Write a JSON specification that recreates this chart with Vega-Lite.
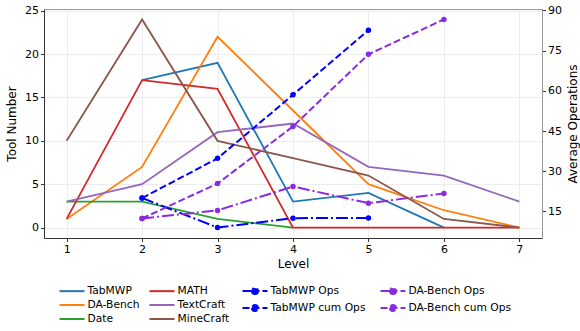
{
  "$schema": "https://vega.github.io/schema/vega-lite/v6.json",
  "autosize": {"type": "none"},
  "width": 498,
  "height": 229,
  "padding": {"left": 44, "top": 9, "right": 38, "bottom": 93},
  "config": {
    "font": "DejaVu Sans",
    "view": {"stroke": "#999", "strokeWidth": 1},
    "axis": {"labelFont": "DejaVu Sans", "titleFont": "DejaVu Sans", "labelFontSize": 11, "titleFontSize": 12, "titleFontWeight": "normal", "labelColor": "#000", "titleColor": "#000", "tickColor": "#333", "tickSize": 3.5, "labelPadding": 2, "gridColor": "#e8e8e8", "gridWidth": 0.8},
    "legend": {"labelFont": "DejaVu Sans", "labelFontSize": 10.7, "labelColor": "#000"}
  },
  "datasets": {
    "left": [
      {"level": 2, "series": "TabMWP", "value": 17}, {"level": 3, "series": "TabMWP", "value": 19}, {"level": 4, "series": "TabMWP", "value": 3}, {"level": 5, "series": "TabMWP", "value": 4}, {"level": 6, "series": "TabMWP", "value": 0},
      {"level": 1, "series": "DA-Bench", "value": 1}, {"level": 2, "series": "DA-Bench", "value": 7}, {"level": 3, "series": "DA-Bench", "value": 22}, {"level": 4, "series": "DA-Bench", "value": 13.5}, {"level": 5, "series": "DA-Bench", "value": 5}, {"level": 6, "series": "DA-Bench", "value": 2}, {"level": 7, "series": "DA-Bench", "value": 0},
      {"level": 1, "series": "Date", "value": 3}, {"level": 2, "series": "Date", "value": 3}, {"level": 3, "series": "Date", "value": 1}, {"level": 4, "series": "Date", "value": 0},
      {"level": 1, "series": "MATH", "value": 1}, {"level": 2, "series": "MATH", "value": 17}, {"level": 3, "series": "MATH", "value": 16}, {"level": 4, "series": "MATH", "value": 0}, {"level": 5, "series": "MATH", "value": 0}, {"level": 6, "series": "MATH", "value": 0}, {"level": 7, "series": "MATH", "value": 0},
      {"level": 1, "series": "TextCraft", "value": 3}, {"level": 2, "series": "TextCraft", "value": 5}, {"level": 3, "series": "TextCraft", "value": 11}, {"level": 4, "series": "TextCraft", "value": 12}, {"level": 5, "series": "TextCraft", "value": 7}, {"level": 6, "series": "TextCraft", "value": 6}, {"level": 7, "series": "TextCraft", "value": 3},
      {"level": 1, "series": "MineCraft", "value": 10}, {"level": 2, "series": "MineCraft", "value": 24}, {"level": 3, "series": "MineCraft", "value": 10}, {"level": 4, "series": "MineCraft", "value": 8}, {"level": 5, "series": "MineCraft", "value": 6}, {"level": 6, "series": "MineCraft", "value": 1}, {"level": 7, "series": "MineCraft", "value": 0}
    ],
    "right": [
      {"level": 2, "series": "TabMWP Ops", "ops": 20}, {"level": 3, "series": "TabMWP Ops", "ops": 9}, {"level": 4, "series": "TabMWP Ops", "ops": 12.5}, {"level": 5, "series": "TabMWP Ops", "ops": 12.6},
      {"level": 2, "series": "TabMWP cum Ops", "ops": 20}, {"level": 3, "series": "TabMWP cum Ops", "ops": 34.8}, {"level": 4, "series": "TabMWP cum Ops", "ops": 58.5}, {"level": 5, "series": "TabMWP cum Ops", "ops": 82.6},
      {"level": 2, "series": "DA-Bench Ops", "ops": 12.4}, {"level": 3, "series": "DA-Bench Ops", "ops": 15.4}, {"level": 4, "series": "DA-Bench Ops", "ops": 24.3}, {"level": 5, "series": "DA-Bench Ops", "ops": 18.1}, {"level": 6, "series": "DA-Bench Ops", "ops": 21.7},
      {"level": 2, "series": "DA-Bench cum Ops", "ops": 12.4}, {"level": 3, "series": "DA-Bench cum Ops", "ops": 25.4}, {"level": 4, "series": "DA-Bench cum Ops", "ops": 46.7}, {"level": 5, "series": "DA-Bench cum Ops", "ops": 73.6}, {"level": 6, "series": "DA-Bench cum Ops", "ops": 86.6}
    ]
  },
  "encoding": {
    "x": {"field": "level", "type": "quantitative",
      "scale": {"domain": [0.7, 7.3], "nice": false, "zero": false},
      "axis": {"values": [1, 2, 3, 4, 5, 6, 7], "format": "d", "title": "Level", "grid": true, "domainColor": "#333", "titlePadding": 4}}
  },
  "layer": [
    {
      "data": {"name": "left"},
      "mark": {"type": "line", "strokeWidth": 1.8},
      "encoding": {
        "y": {"field": "value", "type": "quantitative",
          "scale": {"domain": [-1.2, 25.2], "nice": false, "zero": false},
          "axis": {"values": [0, 5, 10, 15, 20, 25], "title": "Tool Number", "grid": true, "domainColor": "#333", "titlePadding": 6}},
        "color": {"field": "series", "type": "nominal",
          "scale": {"domain": ["TabMWP", "MATH", "DA-Bench", "TextCraft", "Date", "MineCraft"],
            "range": ["#1f77b4", "#d62728", "#ff7f0e", "#9467bd", "#2ca02c", "#8c564b"]},
          "legend": {"title": null, "orient": "none", "direction": "horizontal", "legendX": 22, "legendY": 276, "columns": 2, "columnPadding": 5, "rowPadding": 3,
            "symbolType": "stroke", "symbolSize": 100, "symbolStrokeWidth": 2, "labelOffset": 9.5,
            "encode": {"symbols": {"update": {"shape": {"value": "M-2.5,0H2.5"}}}}}}
      }
    },
    {
      "data": {"name": "right"},
      "layer": [
        {"mark": {"type": "line", "strokeWidth": 2}, "encoding": {}},
        {"mark": {"type": "point", "shape": "circle", "filled": true, "opacity": 1, "size": 30}, "encoding": {}}
      ],
      "encoding": {
        "y": {"field": "ops", "type": "quantitative",
          "scale": {"domain": [5.1, 90.5], "nice": false, "zero": false},
          "axis": {"orient": "right", "values": [15, 30, 45, 60, 75, 90], "title": "Average Operations", "titleAngle": 270, "titleBaseline": "middle", "titleX": 30, "titleY": 114.5, "grid": false, "domainColor": "#999"}},
        "color": {"field": "series", "type": "nominal",
          "scale": {"domain": ["TabMWP Ops", "DA-Bench Ops", "TabMWP cum Ops", "DA-Bench cum Ops"],
            "range": ["#0000ff", "#8a2be2", "#0000ff", "#8a2be2"]},
          "legend": {"title": null, "orient": "none", "direction": "horizontal", "legendX": 205, "legendY": 276, "columns": 2, "columnPadding": 10, "rowPadding": 3,
            "symbolType": "stroke", "symbolSize": 100, "symbolStrokeWidth": 2, "labelOffset": 9.5,
            "encode": {"symbols": {"update": {
              "shape": {"value": "M-2.5,0H2.5M-0.6,0A0.6,0.6,0,1,0,0.6,0A0.6,0.6,0,1,0,-0.6,0Z"},
              "fill": {"signal": "indexof(datum.value, 'TabMWP') >= 0 ? '#0000ff' : '#8a2be2'"}
            }}}}},
        "strokeDash": {"field": "series", "type": "nominal",
          "scale": {"domain": ["TabMWP Ops", "DA-Bench Ops", "TabMWP cum Ops", "DA-Bench cum Ops"],
            "range": [[12, 3, 2, 3], [12, 3, 2, 3], [7, 3], [7, 3]]},
          "legend": null}
      }
    }
  ],
  "resolve": {"scale": {"y": "independent", "color": "independent", "strokeDash": "independent"}, "legend": {"color": "independent"}}
}
